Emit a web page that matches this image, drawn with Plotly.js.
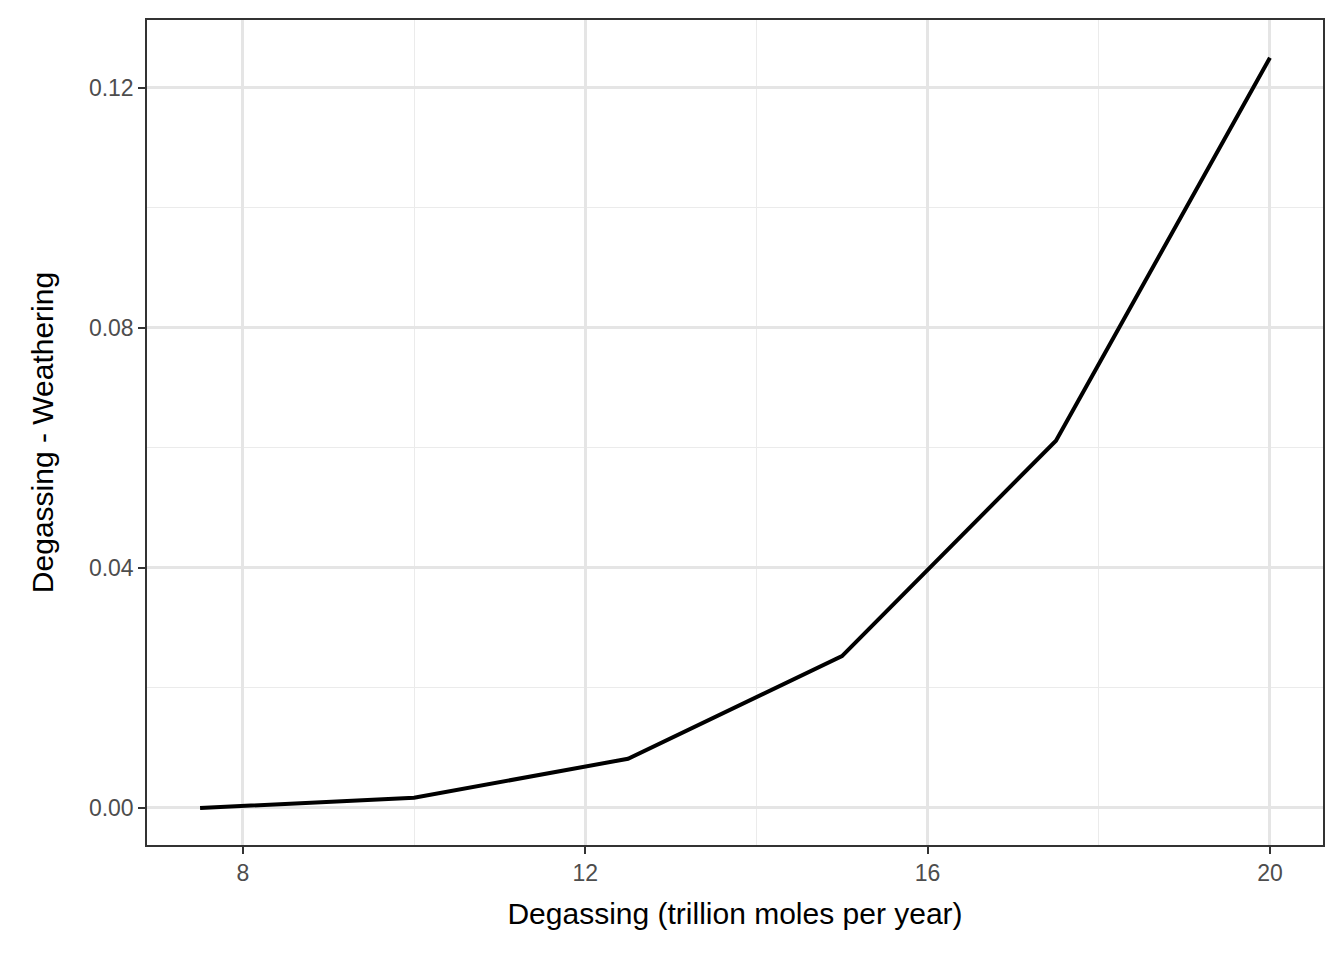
<!DOCTYPE html>
<html>
<head>
<script src="https://cdn.plot.ly/plotly-3.0.1.min.js"></script>
<style>body{margin:0;background:#fff}</style>
</head>
<body>
<div id="plot" style="width:1344px;height:960px"></div>
<script>
// Values
const degassing = [7.5, 10, 12.5, 15, 17.5, 20];
const difference = [0.0000, 0.0017, 0.0082, 0.0253, 0.0612, 0.1250];

const tickFont = {family: 'Liberation Sans, Arial, sans-serif', size: 23, color: '#4d4d4d'};
const titleFont = {family: 'Liberation Sans, Arial, sans-serif', size: 30, color: '#000'};

Plotly.newPlot('plot', [{
  x: degassing,
  y: difference,
  mode: 'lines',
  type: 'scatter',
  line: {color: '#000', width: 4},
  hoverinfo: 'skip'
}], {
  width: 1344,
  height: 960,
  margin: {l: 147, r: 21, t: 20, b: 115},
  paper_bgcolor: 'white',
  plot_bgcolor: 'white',
  showlegend: false,
  xaxis: {
    range: [6.88, 20.62],
    tickvals: [8, 12, 16, 20],
    ticktext: ['8', '12', '16', '20'],
    ticks: 'outside', ticklen: 7, tickcolor: '#333', tickwidth: 1.5,
    tickfont: tickFont,
    showgrid: true, gridcolor: '#e5e5e5', gridwidth: 2.5,
    minor: {tickvals: [10, 14, 18], showgrid: true, gridcolor: '#ebebeb', gridwidth: 1.2, ticks: ''},
    zeroline: false,
    showline: true, linecolor: '#333', linewidth: 1.5, mirror: true,
    title: {text: 'Degassing (trillion moles per year)', font: titleFont, standoff: 18}
  },
  yaxis: {
    range: [-0.00617, 0.1313],
    tickvals: [0, 0.04, 0.08, 0.12],
    ticktext: ['0.00', '0.04', '0.08', '0.12'],
    ticks: 'outside', ticklen: 7, tickcolor: '#333', tickwidth: 1.5,
    tickfont: tickFont,
    showgrid: true, gridcolor: '#e5e5e5', gridwidth: 2.5,
    minor: {tickvals: [0.02, 0.06, 0.10], showgrid: true, gridcolor: '#ebebeb', gridwidth: 1.2, ticks: ''},
    zeroline: false,
    showline: true, linecolor: '#333', linewidth: 1.5, mirror: true,
    title: {text: 'Degassing - Weathering', font: titleFont, standoff: 26}
  }
}, {displayModeBar: false});
</script>
</body>
</html>
